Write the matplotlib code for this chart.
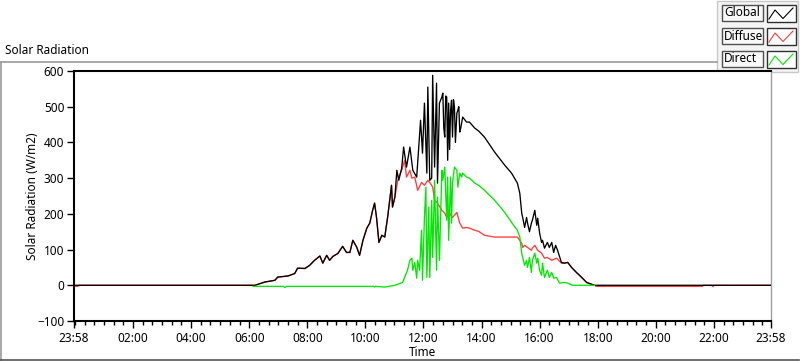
import matplotlib
matplotlib.use("Agg")
import matplotlib.pyplot as plt
from matplotlib.patches import Rectangle
from matplotlib.lines import Line2D

plt.rcParams['font.family'] = ['Noto Sans', 'DejaVu Sans']

# ---------------- data (minutes since 00:00, W/m2) ----------------
global_pts = [(-2, 0), (372, 0), (392, 9), (413, 14), (419, 23), (440, 26), (454, 33), (460, 48),
              (475, 47), (485, 56), (495, 70), (506, 82), (512, 62), (520, 84), (526, 70), (533, 81),
              (543, 89), (553, 109), (561, 92), (568, 92), (574, 126), (582, 107), (588, 84),
              (595, 126), (603, 160), (609, 174), (615, 210), (619, 230), (623, 190), (628, 120),
              (634, 140), (640, 135), (646, 191), (654, 280), (656, 219), (661, 247), (665, 322),
              (669, 294), (675, 328), (679, 387), (685, 331), (692, 387), (698, 322), (706, 303),
              (708, 342), (714, 462), (718, 370), (722, 510), (727, 314), (729, 555), (733, 294),
              (737, 300), (739, 588), (743, 331), (747, 566), (749, 286), (753, 510), (758, 527),
              (760, 538), (762, 440), (764, 415), (766, 530), (768, 527), (770, 350), (772, 510),
              (774, 380), (776, 490), (778, 518), (780, 415), (782, 520), (784, 499), (786, 400),
              (789, 482), (791, 490), (793, 500), (795, 429), (797, 440), (801, 471), (809, 457),
              (815, 457), (826, 440), (834, 432), (846, 415), (867, 373), (888, 336), (902, 314),
              (914, 286), (919, 258), (923, 202), (925, 190), (929, 162), (933, 190), (935, 174),
              (939, 150), (943, 174), (945, 182), (950, 210), (954, 168), (956, 188), (960, 146),
              (964, 120), (966, 126), (970, 104), (976, 120), (980, 106), (985, 120), (989, 92),
              (993, 112), (997, 98), (1005, 64), (1011, 62), (1018, 64), (1026, 50), (1036, 36),
              (1047, 22), (1057, 8), (1067, 3), (1073, 0), (1438, 0)]

diffuse_start = [(-2, -3), (6, -3), (8, 0)]
diffuse_own = [(667, 294), (671, 310), (675, 322), (681, 350), (685, 303), (692, 322), (696, 300),
               (702, 303), (708, 266), (716, 288), (722, 280), (729, 294), (733, 288), (739, 275),
               (743, 238), (749, 230), (758, 210), (764, 202), (768, 190), (774, 202), (780, 190),
               (789, 204), (795, 174), (801, 160), (809, 162), (815, 160), (826, 154), (834, 151),
               (846, 140), (867, 135), (894, 135), (914, 135), (923, 118), (925, 106), (929, 112),
               (935, 106), (943, 98), (945, 104), (950, 112), (956, 98), (964, 90), (970, 76),
               (976, 78), (985, 70), (995, 76), (1005, 62), (1011, 62), (1018, 64), (1026, 50),
               (1036, 36), (1047, 22), (1057, 8), (1067, 3), (1073, 0), (1077, -3), (1296, -3),
               (1298, 0), (1316, 0), (1318, -4), (1320, 0), (1438, 0)]

direct_pts = [(368, -3), (430, -3), (434, -6), (437, -3), (617, -3), (619, -5), (621, -3),
              (640, -5), (661, 0), (671, 5), (677, 8), (681, 22), (687, 42), (692, 70), (696, 76),
              (698, 42), (702, 64), (706, 20), (708, 70), (712, 42), (716, 154), (718, 14),
              (722, 190), (725, 275), (727, 22), (731, 219), (733, 22), (737, 238), (739, 78),
              (743, 294), (747, 42), (749, 247), (753, 70), (758, 322), (760, 294), (764, 331),
              (768, 182), (770, 303), (772, 126), (776, 303), (778, 174), (780, 286), (784, 331),
              (789, 322), (791, 275), (795, 314), (799, 303), (801, 314), (809, 303), (815, 300),
              (826, 286), (834, 280), (846, 266), (867, 238), (888, 204), (902, 176), (914, 154),
              (919, 135), (923, 90), (925, 78), (929, 56), (933, 70), (935, 50), (939, 78),
              (943, 36), (945, 70), (950, 90), (954, 62), (956, 76), (960, 42), (964, 28),
              (966, 62), (970, 22), (976, 42), (980, 22), (985, 36), (989, 20), (995, 22),
              (1001, 6), (1011, 8), (1018, 6), (1028, 0), (1073, 0)]

tick_minutes = [-2, 120, 240, 360, 480, 600, 720, 840, 960, 1080, 1200, 1320, 1438]
tick_labels = ["23:58", "02:00", "04:00", "06:00", "08:00", "10:00", "12:00",
               "14:00", "16:00", "18:00", "20:00", "22:00", "23:58"]
y_ticks = [-100, 0, 100, 200, 300, 400, 500, 600]
series_names = ["Global", "Diffuse", "Direct"]
series_colors = ["#000000", "#ff3b3b", "#00e800"]

diffuse_pts = diffuse_start + [p for p in global_pts if 372 <= p[0] <= 661] + diffuse_own

# ---------------- figure ----------------
W, H = 800, 361
fig = plt.figure(figsize=(W / 100, H / 100), dpi=100)
fig.patch.set_facecolor("white")

L, R, T, B = 74, 771, 71, 321
ax = fig.add_axes([L / W, 1 - B / H, (R - L) / W, (B - T) / H])

def xy(pts):
    return [p[0] for p in pts], [p[1] for p in pts]

gx, gy = xy(global_pts)
dx, dy = xy(diffuse_pts)
rx, ry = xy(direct_pts)
ax.plot(dx, dy, color=series_colors[1], lw=0.95, zorder=2)
ax.plot(gx, gy, color=series_colors[0], lw=0.95, zorder=3)
ax.plot(rx, ry, color=series_colors[2], lw=0.95, zorder=4)

ax.set_xlim(-2, 1438)
ax.set_ylim(-100, 600)
ax.set_xticks(tick_minutes)
ax.set_xticklabels(tick_labels)
ax.set_xticks(list(range(0, 1440, 20)), minor=True)
ax.set_yticks(y_ticks)
ax.tick_params(axis='x', which='major', length=5, width=1, pad=3, labelsize=8.5, direction='out')
ax.tick_params(axis='x', which='minor', length=3, width=1, direction='out')
ax.tick_params(axis='y', which='major', length=5, width=1, pad=2, labelsize=8.5, direction='out')
for s in ['left', 'bottom', 'top']:
    ax.spines[s].set_color('black')
    ax.spines[s].set_linewidth(1.5)
ax.spines['right'].set_color('#a0a0a0')
ax.spines['right'].set_linewidth(1)

fig.text(33 / W, 1 - ((T + B) / 2) / H, "Solar Radiation (W/m2)", rotation=90,
         ha='center', va='center', fontsize=8.5)
fig.text(((L + R) / 2) / W, 1 - 353 / H, "Time", ha='center', va='center', fontsize=8.5)

# ---------------- overlay: frame, title, legend ----------------
ov = fig.add_axes([0, 0, 1, 1], zorder=-1)
ov.set_xlim(0, W)
ov.set_ylim(H, 0)
ov.axis('off')

ov.text(5, 50, "Solar Radiation", ha='left', va='center', fontsize=8.5)
ov.add_line(Line2D([0, 717], [61.5, 61.5], color='#9a9a9a', lw=1.2))
ov.add_line(Line2D([0.7, 0.7], [61.5, 361], color='#9a9a9a', lw=1.2))
ov.add_line(Line2D([0, 799], [359.5, 359.5], color='#555555', lw=1.2))

# legend panel
ov.add_patch(Rectangle((717, 1), 81, 71, facecolor='#f4f4f4', edgecolor='#c8c8c8', lw=1))
row_tops = [4, 27, 50]
for name, col, top in zip(series_names, series_colors, row_tops):
    ov.add_patch(Rectangle((721.5, top + 0.5), 41, 16.5, facecolor='#f8f8f8',
                           edgecolor='#505050', lw=1))
    ov.text(724, top + 9, name, ha='left', va='center', fontsize=8.5)
    ov.add_patch(Rectangle((766.5, top + 0.5), 29, 17.5, facecolor='white',
                           edgecolor='#303030', lw=1))
    zx = [769, 775, 783, 793]
    zy = [top + 15, top + 6, top + 14.5, top + 4]
    ov.add_line(Line2D(zx, zy, color=col, lw=0.8))

fig.savefig("out.png", dpi=100)
